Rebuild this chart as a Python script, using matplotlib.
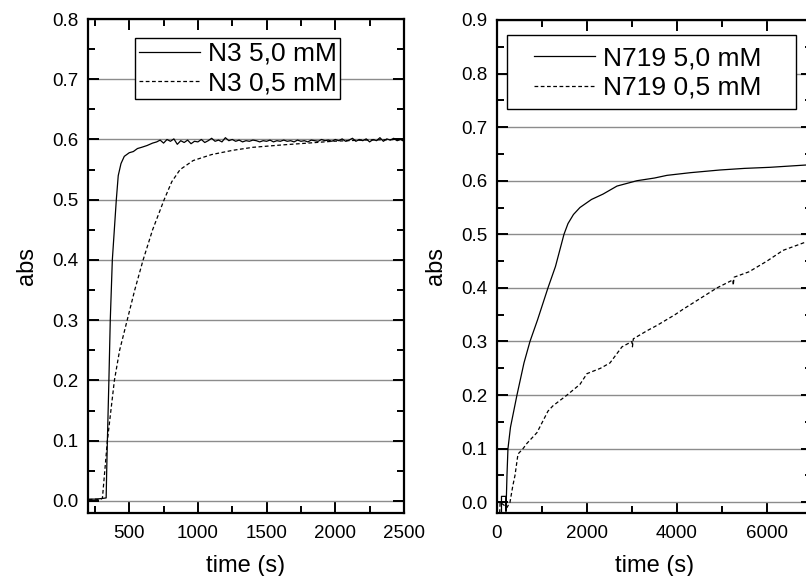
import matplotlib.pyplot as plt
from matplotlib.patches import Rectangle
import numpy as np

plt.rcParams['font.family'] = ['Liberation Sans', 'DejaVu Sans']

# --- dati pannello sinistro (N3) ---
n3_hi_t = [205, 250, 300, 332, 336, 341, 352, 362, 377, 406, 420, 440, 464, 500, 530, 560, 590, 630, 670]
n3_hi_a = [0.003, 0.003, 0.004, 0.005, 0.05, 0.10, 0.20, 0.30, 0.40, 0.50, 0.54, 0.56, 0.572, 0.578, 0.580,
           0.585, 0.587, 0.590, 0.594]
# plateau rumoroso, da 700 a 2500 s ogni 25 s
n3_hi_plateau = [0.596, 0.599, 0.594, 0.600, 0.597, 0.601, 0.592, 0.598, 0.595, 0.599,
                 0.593, 0.597, 0.596, 0.600, 0.595, 0.598, 0.602, 0.597, 0.599, 0.596,
                 0.603, 0.598, 0.600, 0.597, 0.599, 0.596, 0.598, 0.597, 0.599, 0.598,
                 0.596, 0.598, 0.597, 0.599, 0.596, 0.598, 0.597, 0.599, 0.597, 0.598,
                 0.596, 0.599, 0.597, 0.598, 0.596, 0.599, 0.598, 0.597, 0.600, 0.598,
                 0.599, 0.597, 0.600, 0.598, 0.601, 0.597, 0.599, 0.602, 0.597, 0.600,
                 0.598, 0.601, 0.596, 0.600, 0.598, 0.603, 0.597, 0.601, 0.599, 0.602,
                 0.598, 0.600, 0.597]
n3_lo_t = [205, 250, 290, 305, 341, 392, 430, 485, 540, 601, 670, 754, 810, 870, 965, 1100,
           1253, 1400, 1615, 1800, 1978, 2200, 2500]
n3_lo_a = [0.002, 0.003, 0.002, 0.005, 0.10, 0.20, 0.25, 0.30, 0.35, 0.40, 0.45, 0.50, 0.53, 0.55,
           0.565, 0.575, 0.582, 0.587, 0.591, 0.594, 0.597, 0.599, 0.600]

# --- dati pannello destro (N719) ---
n719_hi_t = [100, 100, 150, 200, 200, 206, 222, 244, 300, 444, 600, 733, 900, 1133, 1300, 1489, 1578,
             1700, 1844, 2100, 2356, 2667, 3111, 3500, 3778, 4300, 4956, 5500, 6067, 7000]
n719_hi_a = [-0.017, 0.011, 0.011, 0.011, -0.017, 0.0, 0.05, 0.10, 0.14, 0.20, 0.26, 0.30, 0.34, 0.40,
             0.44, 0.50, 0.52, 0.537, 0.55, 0.565, 0.575, 0.59, 0.60, 0.605, 0.61, 0.615, 0.62, 0.623,
             0.625, 0.63]
n719_lo_t = [60, 70, 150, 220, 289, 350, 400, 467, 578, 667, 889, 1133, 1244, 1556, 1844, 2000, 2300,
             2511, 2778, 3000, 3010, 3030, 3333, 3556, 3956, 4133, 4511, 4889, 5244, 5250, 5270, 5600,
             6000, 6356, 6844, 7000]
n719_lo_a = [-0.02, 0.0, -0.005, -0.01, 0.0, 0.03, 0.05, 0.09, 0.10, 0.11, 0.13, 0.17, 0.18, 0.20, 0.22,
             0.24, 0.25, 0.26, 0.29, 0.30, 0.29, 0.305, 0.32, 0.33, 0.35, 0.36, 0.38, 0.40, 0.415, 0.405,
             0.42, 0.43, 0.45, 0.47, 0.485, 0.49]

DASH = (0, (3, 2))


def stile_assi(ax, xlim, ylim, xmaj, xmin, ymax_tick):
    ax.set_xlim(*xlim)
    ax.set_ylim(*ylim)
    ax.set_xticks(xmaj)
    ax.set_xticks(xmin, minor=True)
    yt = np.round(np.arange(0, ymax_tick + 0.001, 0.1), 1)
    ax.set_yticks(yt)
    ax.set_yticks(np.round(yt[:-1] + 0.05, 2), minor=True)
    ax.yaxis.set_major_formatter(plt.FormatStrFormatter('%.1f'))
    ax.grid(True, axis='y', color='#8c8c8c', lw=1)
    ax.set_axisbelow(True)
    for s in ax.spines.values():
        s.set_linewidth(1.6)
    ax.tick_params(which='both', direction='in', top=True, right=True, width=1.4, labelsize=13.5)
    ax.tick_params(axis='x', pad=9)
    ax.tick_params(axis='y', pad=7)
    ax.tick_params(which='major', length=8)
    ax.tick_params(which='minor', length=5)
    ax.set_xlabel('time (s)', fontsize=17, labelpad=9)
    ax.set_ylabel('abs', fontsize=17, labelpad=10)


def legenda(ax, anchor, pad, frame=True):
    leg = ax.legend(loc='upper left', bbox_to_anchor=anchor, fontsize=19, fancybox=False,
                    edgecolor='black', framealpha=1, handlelength=2.3, labelspacing=0.2,
                    borderpad=pad, handletextpad=0.3, borderaxespad=0, frameon=frame)
    leg.get_frame().set_linewidth(1.0)
    return leg


fig = plt.figure(figsize=(8.06, 5.76), dpi=100)

# pannello sinistro
ax1 = fig.add_axes([0.1092, 0.1094, 0.392, 0.8576])
t_plat = np.arange(700, 2501, 25)
ax1.plot(n3_hi_t + list(t_plat), n3_hi_a + n3_hi_plateau, color='black', lw=0.9, label='N3 5,0 mM')
ax1.plot(n3_lo_t, n3_lo_a, color='black', lw=0.9, ls=DASH, label='N3 0,5 mM')
stile_assi(ax1, (200, 2500), (-0.02, 0.8), [500, 1000, 1500, 2000, 2500],
           [250, 750, 1250, 1750, 2250], 0.8)
legenda(ax1, (0.149, 0.962), 0.15)

# pannello destro
ax2 = fig.add_axes([0.6166, 0.1094, 0.3908, 0.856])
ax2.plot(n719_hi_t, n719_hi_a, color='black', lw=0.9, label='N719 5,0 mM')
ax2.plot(n719_lo_t, n719_lo_a, color='black', lw=0.9, ls=DASH, label='N719 0,5 mM')
stile_assi(ax2, (0, 7000), (-0.02, 0.9), [0, 2000, 4000, 6000], [1000, 3000, 5000], 0.9)
# cornice della legenda disegnata a parte (margini larghi come nell'originale)
ax2.add_patch(Rectangle((0.032, 0.8195), 0.917, 0.150, transform=ax2.transAxes,
                        facecolor='white', edgecolor='black', lw=1.0, zorder=4))
leg2 = legenda(ax2, (0.118, 0.946), 0.0, frame=False)
leg2.set_zorder(5)

fig.savefig('out.png', dpi=100)
